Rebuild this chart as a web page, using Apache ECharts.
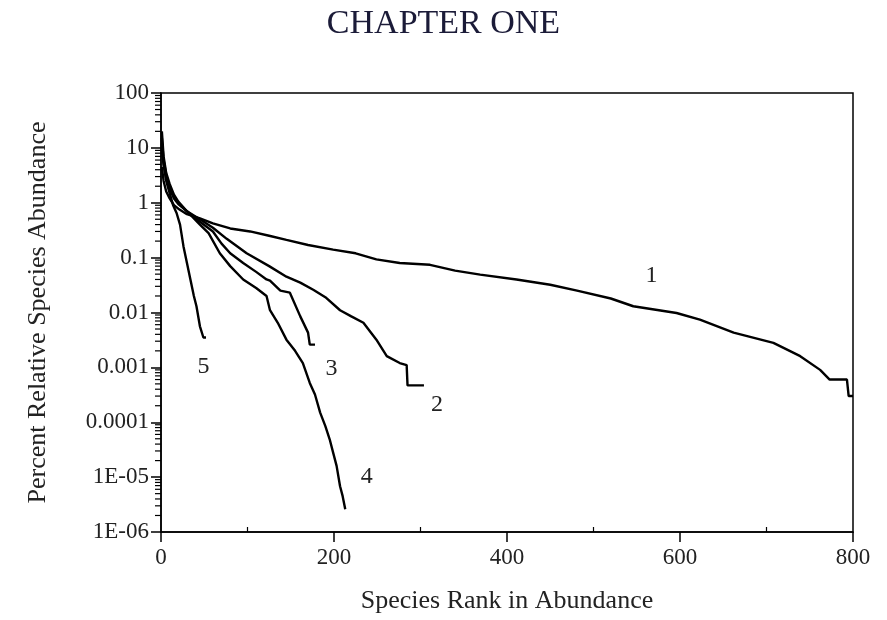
<!DOCTYPE html>
<html>
<head>
<meta charset="utf-8">
<script src="https://cdn.jsdelivr.net/npm/echarts@6/dist/echarts.min.js"></script>
<style>
html,body{margin:0;padding:0;background:#fff;}
#chart{width:887px;height:620px;}
</style>
</head>
<body>
<div id="chart"></div>
<script>
// ---- data ----
const curve1Rank = [1,3,6,10,15,20,30,45,60,80,103,125,145,170,199,225,249,276,311,340,369,411,450,481,520,546,596,623,662,708,739,762,773,793,795,800];
const curve1Value = [4.5,2.5,1.6,1.2,0.9,0.78,0.62,0.52,0.42,0.34,0.30,0.25,0.21,0.17,0.14,0.12,0.093,0.08,0.074,0.058,0.049,0.04,0.032,0.025,0.018,0.013,0.0098,0.0074,0.0043,0.0028,0.0016,0.0009,0.0006,0.0006,0.0003,0.0003];

const curve2Rank = [1,3,6,10,15,20,30,45,60,76,99,125,145,161,176,190,207,220,234,249,261,276,284,285,304];
const curve2Value = [10,5,2.8,1.8,1.2,0.95,0.7,0.5,0.35,0.22,0.12,0.07,0.045,0.035,0.026,0.019,0.011,0.0085,0.0065,0.0032,0.0016,0.0012,0.0011,0.00047,0.00047];

const curve3Rank = [1,3,6,10,15,20,30,45,60,70,80,95,110,122,126,138,149,161,170,172,178];
const curve3Value = [15,6,3.2,2,1.3,1.0,0.7,0.45,0.3,0.18,0.12,0.08,0.055,0.04,0.038,0.025,0.023,0.0085,0.0043,0.0026,0.0026];

const curve4Rank = [1,3,6,10,15,20,30,45,55,68,80,95,110,122,126,135,145,155,164,172,178,184,190,195,199,203,207,210,213];
const curve4Value = [20,7,3.5,2.2,1.4,1.05,0.7,0.4,0.28,0.12,0.07,0.04,0.028,0.02,0.011,0.0065,0.0032,0.002,0.0012,0.00052,0.00032,0.00015,0.000085,0.000049,0.000028,0.000016,0.0000068,0.0000045,0.0000026];

const curve5Rank = [1,3,6,10,14,18,22,26,30,34,38,41,45,49,52];
const curve5Value = [12,5,2.5,1.5,0.9,0.65,0.4,0.16,0.08,0.04,0.02,0.013,0.0056,0.0035,0.0035];

const curveLabelText = ['1','2','3','4','5'];
const curveLabelRank = [567,319,197,238,49];
const curveLabelValue = [0.047,0.00021,0.00094,0.0000102,0.00103];

const yTickLabels = ['1E-06','1E-05','0.0001','0.001','0.01','0.1','1','10','100'];
const xMinorTicks = [100,300,500,700];
const yMinorMultipliers = [2,3,4,5,6,7,8,9];

const titleText = 'CHAPTER ONE';
const xName = 'Species Rank in Abundance';
const yName = 'Percent Relative Species Abundance';

// ---- build ----
const FONT = "'Liberation Serif', 'DejaVu Serif', serif";
const zip = (a, b) => a.map((v, i) => [v, b[i]]);
const curves = [
  zip(curve1Rank, curve1Value),
  zip(curve2Rank, curve2Value),
  zip(curve3Rank, curve3Value),
  zip(curve4Rank, curve4Value),
  zip(curve5Rank, curve5Value)
];

const yMinorData = [];
for (let e = -6; e < 2; e++) {
  yMinorMultipliers.forEach(m => yMinorData.push([0, m * Math.pow(10, e)]));
}

const lineSeries = curves.map((d, i) => ({
  type: 'line',
  data: d,
  showSymbol: false,
  lineStyle: { color: '#000', width: 2.4 },
  itemStyle: { color: '#000' },
  silent: true,
  z: 3,
  markPoint: {
    symbol: 'circle',
    symbolSize: 1,
    itemStyle: { color: 'rgba(0,0,0,0)' },
    label: {
      show: true, position: 'inside', formatter: curveLabelText[i],
      fontFamily: FONT, fontSize: 24, color: '#222'
    },
    data: [{ coord: [curveLabelRank[i], curveLabelValue[i]] }]
  }
}));

const chart = echarts.init(document.getElementById('chart'), null, { renderer: 'canvas' });
chart.setOption({
  animation: false,
  backgroundColor: '#fff',
  title: {
    text: titleText, left: 'center', top: 2,
    textStyle: { fontFamily: FONT, fontSize: 34, fontWeight: 'normal', color: '#1b1b38' }
  },
  grid: {
    left: 161, right: 34, top: 93, bottom: 88,
    show: true, borderColor: '#000', borderWidth: 1.5, backgroundColor: 'transparent'
  },
  xAxis: {
    type: 'value', min: 0, max: 800, interval: 200,
    name: xName, nameLocation: 'middle', nameGap: 56,
    nameTextStyle: { fontFamily: FONT, fontSize: 26, color: '#222' },
    axisLine: { show: true, lineStyle: { color: '#000', width: 1.5 } },
    axisTick: { show: true, length: 10, lineStyle: { color: '#000', width: 1.5 } },
    axisLabel: { fontFamily: FONT, fontSize: 23, color: '#222', margin: 14 },
    splitLine: { show: false }
  },
  yAxis: {
    type: 'log', logBase: 10, min: 0.000001, max: 100, splitNumber: 8,
    name: yName, nameLocation: 'middle', nameGap: 110,
    nameTextStyle: { fontFamily: FONT, fontSize: 26, color: '#222' },
    axisLine: { show: true, lineStyle: { color: '#000', width: 1.5 } },
    axisTick: { show: true, length: 10, lineStyle: { color: '#000', width: 1.5 } },
    axisLabel: {
      fontFamily: FONT, fontSize: 23, color: '#222', margin: 12,
      formatter: v => yTickLabels[Math.round(Math.log10(v)) + 6]
    },
    splitLine: { show: false }
  },
  series: lineSeries.concat([
    {
      type: 'custom', silent: true, clip: false, z: 4,
      data: yMinorData,
      renderItem: (params, api) => {
        const p = api.coord([api.value(0), api.value(1)]);
        return { type: 'line', shape: { x1: p[0] - 6, y1: p[1], x2: p[0], y2: p[1] },
                 style: { stroke: '#000', lineWidth: 1.2 } };
      }
    },
    {
      type: 'custom', silent: true, clip: false, z: 4,
      data: xMinorTicks.map(v => [v, 0.000001]),
      renderItem: (params, api) => {
        const p = api.coord([api.value(0), api.value(1)]);
        return { type: 'line', shape: { x1: p[0], y1: p[1], x2: p[0], y2: p[1] - 5 },
                 style: { stroke: '#000', lineWidth: 1.2 } };
      }
    }
  ])
});
</script>
</body>
</html>
